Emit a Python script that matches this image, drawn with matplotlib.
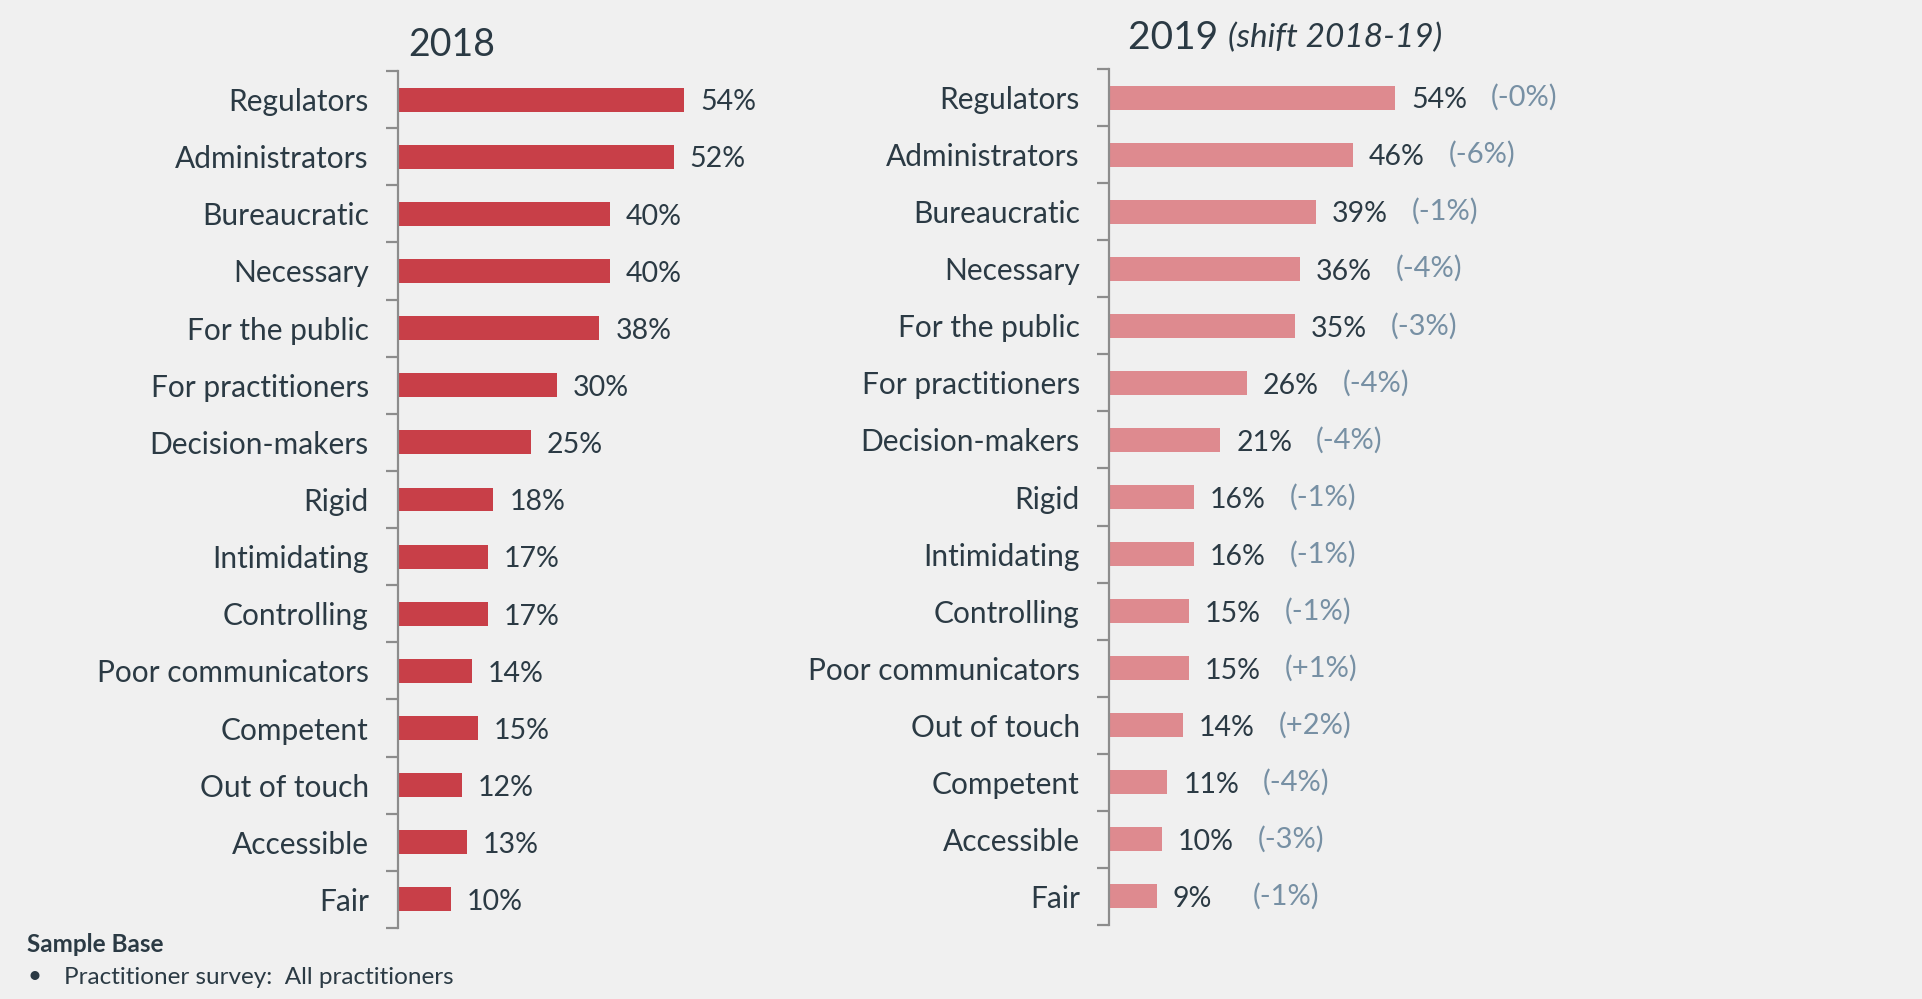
import matplotlib
matplotlib.use("Agg")
import matplotlib.pyplot as plt

# ============================== DATA ==============================
cats_2018 = ["Regulators", "Administrators", "Bureaucratic", "Necessary", "For the public",
             "For practitioners", "Decision-makers", "Rigid", "Intimidating", "Controlling",
             "Poor communicators", "Competent", "Out of touch", "Accessible", "Fair"]
vals_2018 = [54, 52, 40, 40, 38, 30, 25, 18, 17, 17, 14, 15, 12, 13, 10]

cats_2019 = ["Regulators", "Administrators", "Bureaucratic", "Necessary", "For the public",
             "For practitioners", "Decision-makers", "Rigid", "Intimidating", "Controlling",
             "Poor communicators", "Out of touch", "Competent", "Accessible", "Fair"]
vals_2019 = [54, 46, 39, 36, 35, 26, 21, 16, 16, 15, 15, 14, 11, 10, 9]
shift_2019 = ["(-0%)", "(-6%)", "(-1%)", "(-4%)", "(-3%)", "(-4%)", "(-4%)", "(-1%)",
              "(-1%)", "(-1%)", "(+1%)", "(+2%)", "(-4%)", "(-3%)", "(-1%)"]

# ============================== STYLE ==============================
BG = "#f0f0f0"
TXT = "#2b3a44"
SHIFT = "#7790a4"
AXC = "#8c8c8c"
plt.rcParams["font.family"] = ["Lato", "DejaVu Sans"]

fig = plt.figure(figsize=(19.22, 9.99), dpi=100)
fig.patch.set_facecolor(BG)


def draw_panel(rect, cats, vals, color, shifts=None):
    ax = fig.add_axes(rect)
    ax.set_facecolor(BG)
    y = list(range(len(cats)))
    ax.barh(y, vals, height=0.42, color=color, edgecolor="none")
    ax.set_xlim(0, 60)
    ax.set_ylim(len(cats) - 0.5, -0.5)
    for s in ["top", "right", "bottom"]:
        ax.spines[s].set_visible(False)
    ax.spines["left"].set_color(AXC)
    ax.spines["left"].set_linewidth(1.6)
    ax.set_xticks([])
    # boundary ticks between categories, labels sit on the minor ticks
    ax.set_yticks([i - 0.5 for i in range(len(cats) + 1)])
    ax.set_yticklabels([])
    ax.tick_params(axis="y", length=9, width=1.6, color=AXC, direction="out")
    ax.set_yticks(y, minor=True)
    ax.set_yticklabels(cats, minor=True, fontsize=21.5, color=TXT)
    ax.tick_params(axis="y", which="minor", length=0, pad=21)
    for i, v in enumerate(vals):
        ax.annotate(f"{v}%", (v, i), xytext=(11.5, -2), textcoords="offset points",
                    ha="left", va="center", fontsize=20.5, color=TXT)
        if shifts:
            ax.annotate(shifts[i], (v, i), xytext=(69, 0), textcoords="offset points",
                        ha="left", va="center", fontsize=21, color=SHIFT)
    return ax


draw_panel([398 / 1922, 1 - 928 / 999, 318 / 1922, 857 / 999], cats_2018, vals_2018, "#c83f48")
draw_panel([1109 / 1922, 1 - 925 / 999, 318 / 1922, 856 / 999], cats_2019, vals_2019, "#de8a8f",
           shift_2019)

fig.text(408 / 1922, 1 - 45 / 999, "2018", fontsize=27, color=TXT, va="center", ha="left")
t = fig.text(1128 / 1922, 1 - 38 / 999, "2019 ", fontsize=28, color=TXT, va="center", ha="left")
fig.canvas.draw()
bb = t.get_window_extent()
fig.text(bb.x1 / 1922, 1 - 38 / 999, "(shift 2018-19)", fontsize=24, style="italic",
         color=TXT, va="center", ha="left")

fig.text(27 / 1922, 1 - 945 / 999, "Sample Base", fontsize=17.5, fontweight="bold", color=TXT,
         va="center", ha="left")
fig.text(27 / 1922, 1 - 977 / 999, "\u2022", fontsize=17.5, color=TXT, va="center", ha="left")
fig.text(64 / 1922, 1 - 977 / 999, "Practitioner survey:  All practitioners", fontsize=17.5,
         color=TXT, va="center", ha="left")

fig.savefig("out.png", dpi=100, facecolor=BG)
